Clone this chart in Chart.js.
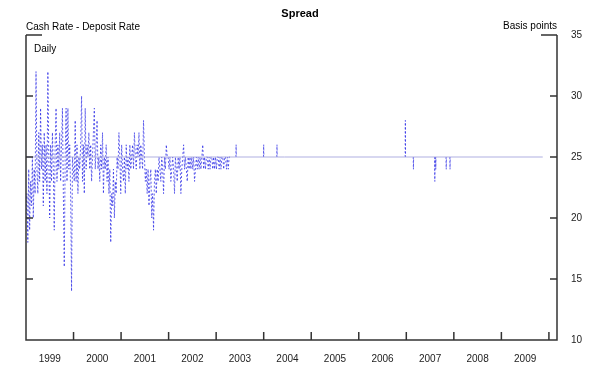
<!DOCTYPE html>
<html>
<head>
<meta charset="utf-8">
<script src="https://cdn.jsdelivr.net/npm/chart.js@4.4.0/dist/chart.umd.min.js"></script>
<style>
    body { margin: 0; background: #fff; }
    canvas { display: block; }
</style>
</head>
<body>
<canvas id="spreadChart" width="600" height="378"></canvas>
<script>
// Cash rate minus deposit rate, basis points
// Dense period: one reading per week from the start of 1999
const weeklyStart = 1999.0;
const weeklySpread = [
    // 1999
    20, 22, 18, 24, 19, 23, 21, 25, 20, 24, 22, 32, 24,
    22, 27, 23, 29, 24, 26, 21, 27, 23, 26, 22, 32, 25,
    20, 26, 23, 27, 24, 19, 26, 29, 23, 26, 24, 27, 23,
    26, 29, 22, 16, 25, 29, 23, 29, 24, 26, 22, 14, 25,
    // 2000
    24, 23, 28, 23, 26, 22, 25, 24, 26, 30, 23, 26, 22,
    29, 24, 26, 25, 27, 24, 26, 23, 25, 27, 29, 24, 26,
    28, 24, 25, 23, 26, 24, 27, 22, 25, 24, 26, 23, 25,
    22, 24, 18, 22, 21, 24, 20, 23, 22, 25, 24, 27, 25,
    // 2001
    22, 26, 24, 23, 25, 22, 26, 24, 25, 23, 26, 24, 25,
    26, 24, 27, 25, 24, 26, 25, 27, 24, 26, 25, 24, 28,
    25, 23, 24, 22, 24, 21, 23, 24, 20, 22, 19, 23, 24,
    22, 24, 23, 25, 24, 23, 25, 24, 22, 25, 24, 26, 25,
    // 2002
    25, 24, 25, 23, 24, 25, 24, 22, 25, 24, 23, 25, 24,
    25, 22, 24, 25, 26, 24, 25, 24, 23, 25, 24, 25, 24,
    25, 24, 25, 23, 24, 25, 24, 25, 24, 25, 24, 25, 26,
    24, 25, 24, 25, 25, 24, 25, 24, 25, 25, 24, 25, 24,
    // 2003
    25, 24, 25, 25, 24, 25, 24, 25, 25, 24, 25, 25, 24,
    25, 24, 25, 25
];

// Later period: isolated moves away from 25
const spikeDates = [2003.42, 2004.00, 2004.28, 2006.98, 2007.15, 2007.60, 2007.62, 2007.84, 2007.92];
const spikeValues = [26, 26, 26, 28, 24, 23, 24, 24, 24];

const targetLevel = 25;
const targetStart = 1999.0;
const targetEnd = 2009.87;

const yearLabels = [1999, 2000, 2001, 2002, 2003, 2004, 2005, 2006, 2007, 2008, 2009];
const yTicks = [10, 15, 20, 25, 30, 35];

const weekInYears = 7 / 365.25;

function buildSpreadPoints() {
    const pts = weeklySpread.map((v, i) => ({ x: weeklyStart + i * weekInYears, y: v }));
    pts.push({ x: pts[pts.length - 1].x + 0.001, y: null });
    spikeDates.forEach((d, i) => {
        pts.push({ x: d - 0.004, y: targetLevel });
        pts.push({ x: d, y: spikeValues[i] });
        pts.push({ x: d + 0.004, y: targetLevel });
        pts.push({ x: d + 0.005, y: null });
    });
    return pts;
}

const frameColor = '#333';
const font = 'Arial, "Liberation Sans", sans-serif';

const framePlugin = {
    id: 'frame',
    afterDraw(chart) {
        const ctx = chart.ctx;
        const a = chart.chartArea;
        const xs = chart.scales.x;
        const ys = chart.scales.y;
        ctx.save();
        ctx.strokeStyle = frameColor;
        ctx.lineWidth = 1.5;
        ctx.beginPath();
        ctx.moveTo(a.left, a.top);
        ctx.lineTo(a.left, a.bottom);
        ctx.lineTo(a.right, a.bottom);
        ctx.lineTo(a.right, a.top);
        ctx.stroke();

        // inward ticks
        ctx.beginPath();
        yTicks.forEach(v => {
            if (v === 10) return;
            const py = ys.getPixelForValue(v);
            const len = v === 35 ? 16 : 7;
            ctx.moveTo(a.left, py);
            ctx.lineTo(a.left + len, py);
            ctx.moveTo(a.right, py);
            ctx.lineTo(a.right - len, py);
        });
        yearLabels.forEach(y => {
            const px = xs.getPixelForValue(y + 1);
            ctx.moveTo(px, a.bottom);
            ctx.lineTo(px, a.bottom - 8);
        });
        ctx.stroke();

        ctx.fillStyle = '#000';
        ctx.textBaseline = 'middle';
        ctx.font = 'bold 11px ' + font;
        ctx.textAlign = 'center';
        ctx.fillText('Spread', chart.width / 2, 14);
        ctx.font = '10px ' + font;
        ctx.textAlign = 'left';
        ctx.fillText('Cash Rate - Deposit Rate', a.left, 27);
        ctx.fillText('Daily', a.left + 8, 49);
        ctx.textAlign = 'right';
        ctx.fillText('Basis points', a.right, 26);
        ctx.restore();
    }
};

new Chart(document.getElementById('spreadChart'), {
    type: 'line',
    data: {
        datasets: [
            {
                label: 'Target',
                data: [{ x: targetStart, y: targetLevel }, { x: targetEnd, y: targetLevel }],
                borderColor: 'rgb(175, 175, 225)',
                borderWidth: 1,
                pointRadius: 0
            },
            {
                label: 'Spread',
                data: buildSpreadPoints(),
                borderColor: 'rgba(40, 40, 230, 0.75)',
                borderWidth: 1,
                borderDash: [2, 2],
                pointRadius: 0,
                tension: 0,
                spanGaps: false
            }
        ]
    },
    options: {
        responsive: false,
        animation: false,
        devicePixelRatio: 1,
        layout: { padding: { left: 26, top: 35, right: 0, bottom: 0 } },
        plugins: {
            legend: { display: false },
            tooltip: { enabled: false }
        },
        scales: {
            x: {
                type: 'linear',
                min: 1999,
                max: 2010.17,
                grid: { display: false },
                border: { display: false },
                afterBuildTicks: s => { s.ticks = yearLabels.map(y => ({ value: y + 0.5 })); },
                afterFit: s => { s.height = 38; },
                ticks: {
                    autoSkip: false,
                    maxRotation: 0,
                    padding: 5,
                    color: '#222',
                    font: { family: font, size: 10 },
                    callback: v => String(Math.floor(v))
                }
            },
            y: {
                position: 'right',
                min: 10,
                max: 35,
                grid: { display: false },
                border: { display: false },
                afterBuildTicks: s => { s.ticks = yTicks.map(v => ({ value: v })); },
                afterFit: s => { s.width = 43; },
                ticks: {
                    padding: 6,
                    color: '#222',
                    font: { family: font, size: 10 }
                }
            }
        }
    },
    plugins: [framePlugin]
});
</script>
</body>
</html>
